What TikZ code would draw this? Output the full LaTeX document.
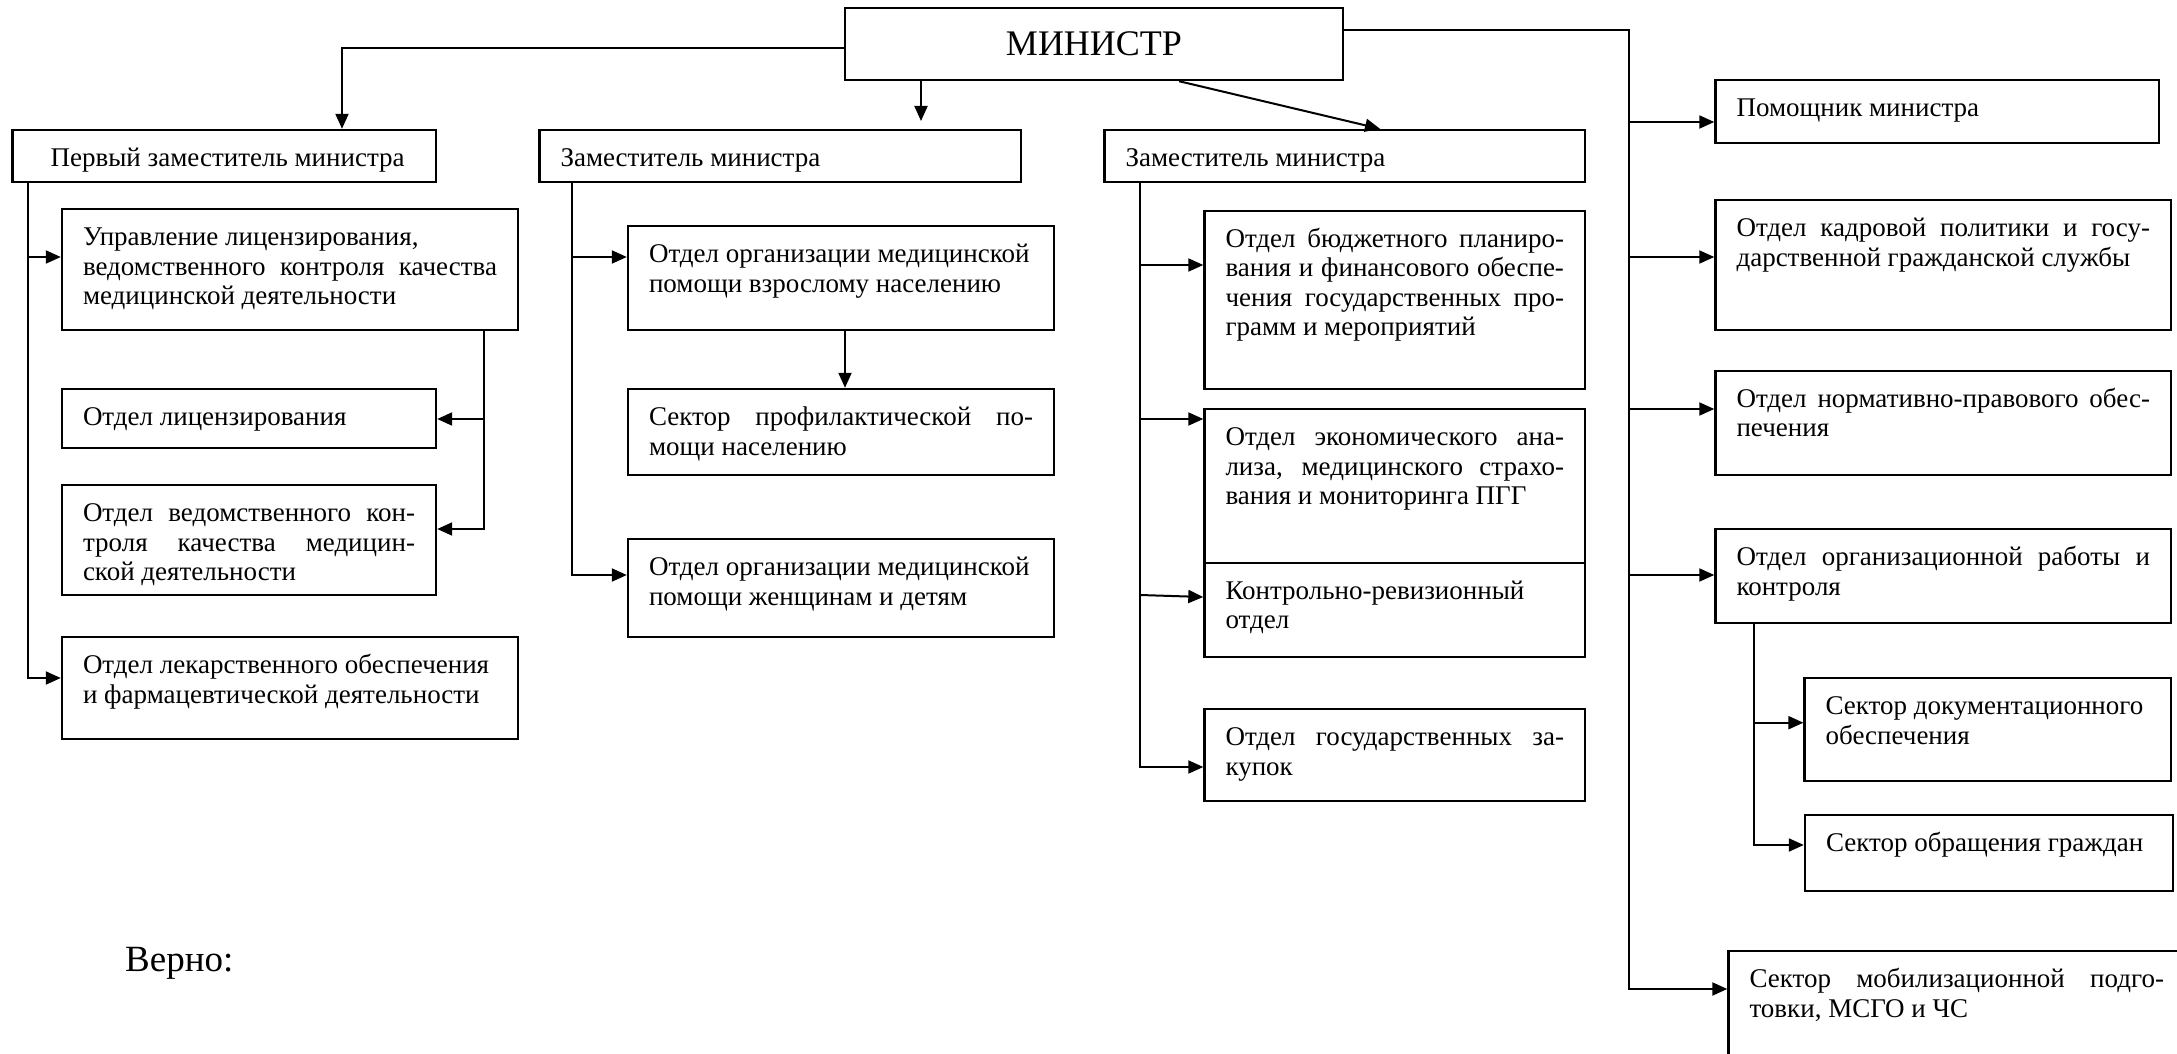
\documentclass[tikz,border=0pt]{standalone}
\usepackage{fontspec}
\setmainfont{Liberation Serif}
\usetikzlibrary{arrows.meta}
\newcommand\jl[1]{\makebox[\linewidth][s]{\strut#1}\par}
\newcommand\rl[1]{\makebox[\linewidth][l]{\strut#1}\par}
\newcommand\obox[7][]{\node[obx,#1] (#2) at ({(#3+#5)/2},{(#4+#6)/2}) {\parbox[t][\dimexpr#6pt-#4pt\relax][t]{\dimexpr#5pt-#3pt-42pt\relax}{\vspace*{16pt}#7}};}
\begin{document}
\begin{tikzpicture}[x=1pt,y=-1pt,
  obx/.style={draw, line width=2.4pt, inner xsep=21pt, inner ysep=0pt, font=\fontsize{27}{29.5}\selectfont},
  arr/.style={line width=2pt, -{Triangle[length=15pt,width=13pt]}},
  ln/.style={line width=2pt}]
\useasboundingbox (0,0) rectangle (2177,1054);
\clip (0,0) rectangle (2177,1054);
\fill[white] (0,0) rectangle (2177,1054);

\node[draw, line width=2.4pt, minimum width=498pt, minimum height=72pt, inner sep=0pt,
  font=\fontsize{36}{40}\selectfont] (min) at (1094,44) {МИНИСТР};

\obox{d1}{12.6}{130}{436}{182}{\rl{\hspace*{17pt}Первый заместитель министра}}
\obox{d2}{539.5}{130}{1021}{182}{\rl{Заместитель министра}}
\obox{d3}{1104.6}{130}{1585}{182}{\rl{Заместитель министра}}

\obox{upr}{62}{209}{518}{330}{\rl{Управление лицензирования,}\jl{ведомственного  контроля  качества}\rl{медицинской деятельности}}
\obox{lic}{62}{389}{436}{447.7}{\rl{Отдел лицензирования}}
\obox{ved}{62}{485}{436}{595}{\jl{Отдел ведомственного кон-}\jl{троля качества медицин-}\rl{ской деятельности}}
\obox{lek}{62}{637}{518}{739}{\rl{Отдел лекарственного обеспечения}\rl{и фармацевтической деятельности}}

\obox{vzr}{628}{226}{1054}{330}{\rl{Отдел организации медицинской}\rl{помощи взрослому населению}}
\obox{prof}{628}{389}{1054}{475}{\jl{Сектор профилактической по-}\rl{мощи населению}}
\obox{zhen}{628}{539}{1054}{637}{\rl{Отдел организации медицинской}\rl{помощи женщинам и детям}}

\obox{bud}{1204.5}{210.7}{1585}{389}{\jl{Отдел бюджетного планиро-}\jl{вания и финансового обеспе-}\jl{чения государственных про-}\rl{грамм и мероприятий}}
\obox{eko}{1204.5}{409}{1585}{562.7}{\jl{Отдел экономического ана-}\jl{лиза, медицинского страхо-}\rl{вания и мониторинга ПГГ}}
\obox{kro}{1204.5}{562.7}{1585}{657}{\rl{Контрольно-ревизионный}\rl{отдел}}
\obox{zak}{1204.5}{709}{1585}{800.7}{\jl{Отдел государственных за-}\rl{купок}}

\obox{pom}{1715.5}{80}{2159}{143}{\rl{Помощник министра}}
\obox{kad}{1715.5}{200}{2171}{330}{\jl{Отдел кадровой политики и госу-}\rl{дарственной гражданской службы}}
\obox{norm}{1715.5}{370.7}{2171}{475}{\jl{Отдел нормативно-правового обес-}\rl{печения}}
\obox{org}{1715.5}{529}{2171}{622.7}{\jl{Отдел организационной работы и}\rl{контроля}}
\obox{doc}{1804.6}{678}{2171}{780.7}{\rl{Сектор документационного}\rl{обеспечения}}
\obox{obr}{1805}{815}{2173}{891}{\rl{Сектор обращения граждан}}
\obox{mob}{1728.5}{951}{2185}{1075}{\jl{Сектор мобилизационной подго-}\rl{товки, МСГО и ЧС}}

\node[anchor=base west, inner sep=0pt, font=\fontsize{37}{40}\selectfont] (verno) at (125,971) {Верно:};

% minister connectors
\draw[arr] ([yshift=-3.7pt]min.west) -| ([xshift=117.7pt]d1.north);
\coordinate (d2tip) at (921,121);
\draw[arr] ([xshift=-173pt]min.south) -- (d2tip);
\draw[arr] ([xshift=85pt]min.south) -- ([xshift=35.2pt]d3.north);
\coordinate (busR) at (1628.6,989);
\draw[arr] ([yshift=14pt]min.east) -| (busR) -- (mob.west |- busR);
\foreach \n/\y in {pom/122, kad/257, norm/409, org/575}
  \draw[arr] (busR |- 0,\y) -- (\n.west |- 0,\y);

% deputy 3
\coordinate (bus3) at (1140,767);
\draw[arr] (d3.south -| bus3) -- (bus3) -- (zak.west |- bus3);
\foreach \n/\y in {bud/265, eko/419}
  \draw[arr] (bus3 |- 0,\y) -- (\n.west |- 0,\y);
\draw[arr] (bus3 |- 0,595) -- (kro.west |- 0,597);

% deputy 2
\coordinate (bus2) at (572,575);
\draw[arr] (d2.south -| bus2) -- (bus2) -- (zhen.west |- bus2);
\draw[arr] (bus2 |- 0,257) -- (vzr.west |- 0,257);
\draw[arr] ([xshift=4pt]vzr.south) -- ([xshift=4pt]prof.north);

% deputy 1
\coordinate (bus1) at (28,678);
\draw[arr] (d1.south -| bus1) -- (bus1) -- (lek.west |- bus1);
\draw[arr] (bus1 |- 0,257) -- (upr.west |- 0,257);
\coordinate (busU) at (484,529);
\draw[arr] (upr.south -| busU) -- (busU) -- (ved.east |- busU);
\draw[arr] (busU |- 0,419) -- (lic.east |- 0,419);

% org
\coordinate (busO) at (1754,845);
\draw[arr] (org.south -| busO) -- (busO) -- (obr.west |- busO);
\draw[arr] (busO |- 0,722.7) -- (doc.west |- 0,722.7);
\end{tikzpicture}
\end{document}
